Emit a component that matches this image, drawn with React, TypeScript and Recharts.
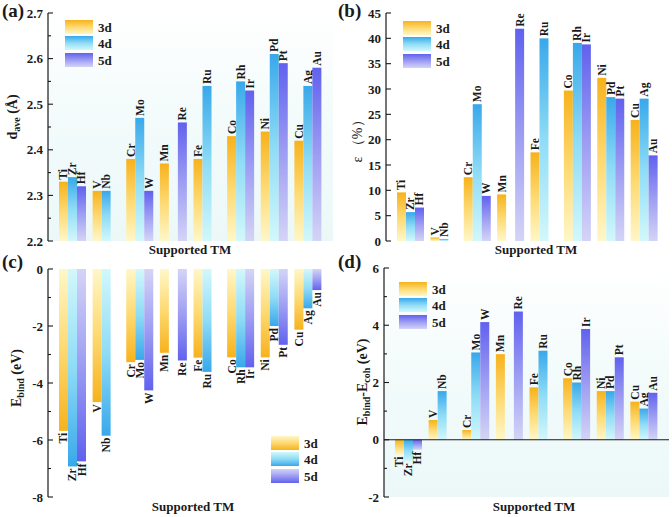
import React from 'react';
import { BarChart, Bar, XAxis, YAxis, CartesianGrid, ReferenceLine } from 'recharts';

// groups (one per column of the periodic table)
const groups = ['Ti', 'V', 'Cr', 'Mn', 'Fe', 'Co', 'Ni', 'Cu'];
const names3d = ['Ti', 'V', 'Cr', 'Mn', 'Fe', 'Co', 'Ni', 'Cu'];
const names4d = ['Zr', 'Nb', 'Mo', null, 'Ru', 'Rh', 'Pd', 'Ag'];
const names5d = ['Hf', null, 'W', 'Re', null, 'Ir', 'Pt', 'Au'];

// (a) average bond length
const dave3d = [2.33, 2.31, 2.38, 2.37, 2.38, 2.43, 2.44, 2.42];
const dave4d = [2.34, 2.31, 2.47, null, 2.54, 2.55, 2.61, 2.54];
const dave5d = [2.32, null, 2.31, 2.46, null, 2.53, 2.59, 2.58];

// (b) strain
const eps3d = [9.6, 0.7, 12.6, 9.2, 17.5, 29.7, 32.2, 23.9];
const eps4d = [5.7, 0.4, 27.0, null, 40.0, 39.1, 28.4, 28.1];
const eps5d = [6.6, null, 8.9, 41.9, null, 38.8, 28.1, 16.9];

// (c) binding energy
const eb3d = [-5.68, -4.67, -3.27, -2.94, -3.11, -3.1, -3.1, -2.13];
const eb4d = [-6.93, -5.85, -3.19, null, -3.61, -3.45, -2.0, -1.38];
const eb5d = [-6.75, null, -4.26, -3.21, null, -3.45, -2.66, -0.74];

// (d) binding minus cohesive energy
const ed3d = [-0.52, 0.69, 0.34, 2.99, 1.83, 2.15, 1.7, 1.33];
const ed4d = [-0.76, 1.7, 3.05, null, 3.11, 2.0, 1.7, 1.09];
const ed5d = [-0.35, null, 4.11, 4.48, null, 3.87, 2.88, 1.64];

// axis ticks
const ticksA = [2.2, 2.3, 2.4, 2.5, 2.6, 2.7];
const minorA = [2.25, 2.35, 2.45, 2.55, 2.65];
const ticksB = [0, 5, 10, 15, 20, 25, 30, 35, 40, 45];
const minorB: number[] = [];
const ticksC = [-8, -6, -4, -2, 0];
const minorC = [-7, -5, -3, -1];
const ticksD = [-2, 0, 2, 4, 6];
const minorD = [-1, 1, 3, 5];

const FONT = "'Liberation Serif', 'Times New Roman', Times, serif";
const INK = '#1a1a1a';

const C3 = ['#f7b21c', '#fdd971', '#fff7c8'];
const C4 = ['#38a8ea', '#8fdcf6', '#d2f8fb'];
const C5 = ['#6161ee', '#9d9df3', '#d4d4f7'];

function makeShape(key: string, names: (string | null)[], fill: string) {
  return (p: any) => {
    const v = p.payload ? p.payload[key] : null;
    if (v == null || p.x == null || isNaN(p.y) || isNaN(p.height)) return <g />;
    const top = Math.min(p.y, p.y + p.height);
    const h = Math.abs(p.height);
    const idx = groups.indexOf(p.payload.g);
    const name = names[idx];
    const tx = p.x + p.width / 2 + 4;
    const ty = v >= 0 ? top - 2 : top + h + 2;
    return (
      <g>
        <rect x={p.x} y={top} width={p.width} height={h} fill={fill} />
        {name && (
          <text
            x={tx}
            y={ty}
            transform={`rotate(-90 ${tx} ${ty})`}
            textAnchor={v >= 0 ? 'start' : 'end'}
            fontFamily={FONT}
            fontWeight="bold"
            fontSize={11.5}
            fill={INK}
          >
            {name}
          </text>
        )}
      </g>
    );
  };
}

function makeTick(major: number[], fmt: (v: number) => string) {
  return (p: any) => {
    const val = p.payload.value;
    const isMajor = major.some((m) => Math.abs(m - val) < 1e-9);
    return (
      <g>
        <line x1={p.x} x2={p.x + (isMajor ? 5 : 3)} y1={p.y} y2={p.y} stroke={INK} strokeWidth={1.1} />
        {isMajor && (
          <text x={p.x - 5} y={p.y} dy="0.35em" textAnchor="end" fontFamily={FONT} fontWeight="bold" fontSize={13} fill={INK}>
            {fmt(val)}
          </text>
        )}
      </g>
    );
  };
}

function grad(id: string, c: string[], flip: boolean) {
  return (
    <linearGradient id={id} x1="0" y1={flip ? '1' : '0'} x2="0" y2={flip ? '0' : '1'}>
      <stop offset="0%" stopColor={c[0]} />
      <stop offset="50%" stopColor={c[1]} />
      <stop offset="100%" stopColor={c[2]} />
    </linearGradient>
  );
}

type PanelProps = {
  id: string;
  left: number;
  top: number;
  height: number;
  margin: { top: number; right: number; bottom: number; left: number };
  yWidth: number;
  domain: [number, number];
  ticks: number[];
  minor: number[];
  fmt: (v: number) => string;
  v3: (number | null)[];
  v4: (number | null)[];
  v5: (number | null)[];
  flip?: boolean;
  zero?: boolean;
  tint?: boolean;
};

function Panel(props: PanelProps) {
  const { id, left, top, height, margin, yWidth, domain, ticks, minor, fmt, v3, v4, v5, flip, zero, tint } = props;
  const data = groups.map((g, i) => ({ g, v3: v3[i], v4: v4[i], v5: v5[i] }));
  const allTicks = [...ticks, ...minor].sort((a, b) => a - b);
  const axisLine = { stroke: INK, strokeWidth: 1.2 };
  return (
    <div style={{ position: 'absolute', left, top }}>
      <BarChart width={336} height={height} data={data} margin={margin} barGap={0}>
        <defs>
          {grad(`${id}-g3`, C3, !!flip)}
          {grad(`${id}-g4`, C4, !!flip)}
          {grad(`${id}-g5`, C5, !!flip)}
          <linearGradient id={`${id}-bg`} x1="0" y1="0" x2="0" y2="1">
            <stop offset="0%" stopColor="#ffffff" />
            <stop offset="45%" stopColor={tint ? '#f3fbfb' : '#ffffff'} />
            <stop offset="100%" stopColor={tint ? '#ecf8f8' : '#ffffff'} />
          </linearGradient>
        </defs>
        <CartesianGrid horizontal={false} vertical={false} fill={`url(#${id}-bg)`} />
        <XAxis
          dataKey="g"
          type="category"
          tick={false}
          tickLine={false}
          height={0}
          axisLine={axisLine}
          padding={{ left: 8, right: 8 }}
        />
        <XAxis xAxisId="top" orientation="top" dataKey="g" tick={false} tickLine={false} height={0} axisLine={axisLine} />
        <YAxis
          type="number"
          domain={domain}
          ticks={allTicks}
          interval={0}
          allowDataOverflow
          width={yWidth}
          tickSize={0}
          tickMargin={0}
          tickLine={false}
          axisLine={axisLine}
          tick={makeTick(ticks, fmt)}
        />
        <YAxis yAxisId="right" orientation="right" type="number" domain={domain} tick={false} tickLine={false} width={0} axisLine={axisLine} />
        {zero && <ReferenceLine y={0} stroke={INK} strokeWidth={1.2} />}
        <Bar dataKey="v3" barSize={9} isAnimationActive={false} shape={makeShape('v3', names3d, `url(#${id}-g3)`)} />
        <Bar dataKey="v4" barSize={9} isAnimationActive={false} shape={makeShape('v4', names4d, `url(#${id}-g4)`)} />
        <Bar dataKey="v5" barSize={9} isAnimationActive={false} shape={makeShape('v5', names5d, `url(#${id}-g5)`)} />
      </BarChart>
    </div>
  );
}

const textStyle: React.CSSProperties = {
  position: 'absolute',
  fontFamily: FONT,
  fontWeight: 'bold',
  color: INK,
  whiteSpace: 'nowrap',
  lineHeight: 1,
};

function VTitle({ cx, cy, children }: { cx: number; cy: number; children: React.ReactNode }) {
  return (
    <div style={{ ...textStyle, left: cx, top: cy, fontSize: 14, transform: 'translate(-50%, -50%) rotate(-90deg)' }}>
      {children}
    </div>
  );
}

function XTitle({ cx, cy }: { cx: number; cy: number }) {
  return (
    <div style={{ ...textStyle, left: cx, top: cy, fontSize: 13, transform: 'translate(-50%, -50%)' }}>Supported TM</div>
  );
}

function Tag({ x, y, label }: { x: number; y: number; label: string }) {
  return <div style={{ ...textStyle, left: x, top: y, fontSize: 19 }}>{label}</div>;
}

const legendRows = [
  { label: '3d', c: C3 },
  { label: '4d', c: C4 },
  { label: '5d', c: C5 },
];

function LegendBox({ x, y, flip }: { x: number; y: number; flip?: boolean }) {
  return (
    <div style={{ position: 'absolute', left: x, top: y }}>
      {legendRows.map((r, i) => (
        <div key={r.label} style={{ position: 'absolute', left: 0, top: i * 16.3, width: 80, height: 14 }}>
          <div
            style={{
              position: 'absolute',
              left: 0,
              top: 0,
              width: 28,
              height: 14,
              background: `linear-gradient(${flip ? 'to top' : 'to bottom'}, ${r.c[0]}, ${r.c[1]}, ${r.c[2]})`,
            }}
          />
          <div style={{ ...textStyle, left: 33, top: 1, fontSize: 13 }}>{r.label}</div>
        </div>
      ))}
    </div>
  );
}

export default function App() {
  return (
    <div style={{ position: 'absolute', left: 0, top: 0, width: 672, height: 517, background: '#fff', overflow: 'hidden' }}>
      <Panel
        id="pa"
        left={0}
        top={0}
        height={258}
        margin={{ top: 13, right: 3, bottom: 17, left: 0 }}
        yWidth={48}
        domain={[2.2, 2.7]}
        ticks={ticksA}
        minor={minorA}
        fmt={(v) => v.toFixed(1)}
        v3={dave3d}
        v4={dave4d}
        v5={dave5d}
        tint
      />
      <Panel
        id="pb"
        left={336}
        top={0}
        height={258}
        margin={{ top: 13, right: 3, bottom: 17, left: 0 }}
        yWidth={50}
        domain={[0, 45]}
        ticks={ticksB}
        minor={minorB}
        fmt={(v) => String(v)}
        v3={eps3d}
        v4={eps4d}
        v5={eps5d}
      />
      <Panel
        id="pc"
        left={0}
        top={258}
        height={259}
        margin={{ top: 11, right: 3, bottom: 20, left: 0 }}
        yWidth={48}
        domain={[-8, 0]}
        ticks={ticksC}
        minor={minorC}
        fmt={(v) => String(v)}
        v3={eb3d}
        v4={eb4d}
        v5={eb5d}
        flip
      />
      <Panel
        id="pd"
        left={336}
        top={258}
        height={259}
        margin={{ top: 10, right: 3, bottom: 20, left: 0 }}
        yWidth={48}
        domain={[-2, 6]}
        ticks={ticksD}
        minor={minorD}
        fmt={(v) => String(v)}
        v3={ed3d}
        v4={ed4d}
        v5={ed5d}
        zero
        tint
      />

      <Tag x={2} y={1} label="(a)" />
      <Tag x={338} y={1} label="(b)" />
      <Tag x={2} y={252} label="(c)" />
      <Tag x={338} y={252} label="(d)" />

      <VTitle cx={14} cy={117}>
        d<sub style={{ fontSize: 10 }}>ave</sub> (Å)
      </VTitle>
      <VTitle cx={358} cy={138}>
        <span style={{ fontWeight: 'normal' }}>ε （%）</span>
      </VTitle>
      <VTitle cx={18} cy={378}>
        E<sub style={{ fontSize: 10 }}>bind</sub> (eV)
      </VTitle>
      <VTitle cx={364} cy={382}>
        E<sub style={{ fontSize: 10 }}>bind</sub>-E<sub style={{ fontSize: 10 }}>coh</sub> (eV)
      </VTitle>

      <XTitle cx={190} cy={249} />
      <XTitle cx={536} cy={249} />
      <XTitle cx={193} cy={506} />
      <XTitle cx={534} cy={506} />

      <LegendBox x={65} y={20} />
      <LegendBox x={403} y={21} />
      <LegendBox x={271} y={436} flip />
      <LegendBox x={399} y={282} />
    </div>
  );
}
